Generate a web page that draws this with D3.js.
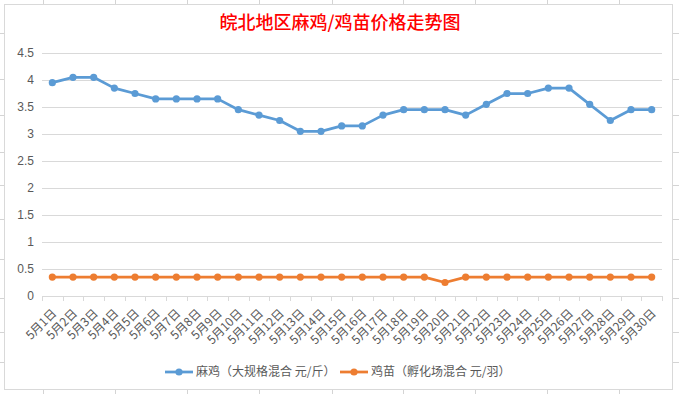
<!DOCTYPE html>
<html>
<head>
<meta charset="utf-8">
<script src="https://cdn.jsdelivr.net/npm/d3@7/dist/d3.min.js"></script>
<style>
html,body{margin:0;padding:0;background:#fff;}
svg{display:block;font-family:"Noto Sans CJK SC","Noto Sans",sans-serif;}
</style>
</head>
<body>
<svg id="chart" width="679" height="394"></svg>
<script>
const categories = ["5月1日","5月2日","5月3日","5月4日","5月5日","5月6日","5月7日","5月8日","5月9日","5月10日",
  "5月11日","5月12日","5月13日","5月14日","5月15日","5月16日","5月17日","5月18日","5月19日","5月20日",
  "5月21日","5月22日","5月23日","5月24日","5月25日","5月26日","5月27日","5月28日","5月29日","5月30日"];
const majiValues = [3.95,4.05,4.05,3.85,3.75,3.65,3.65,3.65,3.65,3.45,
  3.35,3.25,3.05,3.05,3.15,3.15,3.35,3.45,3.45,3.45,
  3.35,3.55,3.75,3.75,3.85,3.85,3.55,3.25,3.45,3.45];
const jimiaoValues = [0.35,0.35,0.35,0.35,0.35,0.35,0.35,0.35,0.35,0.35,
  0.35,0.35,0.35,0.35,0.35,0.35,0.35,0.35,0.35,0.25,
  0.35,0.35,0.35,0.35,0.35,0.35,0.35,0.35,0.35,0.35];
const yTicks = [0,0.5,1,1.5,2,2.5,3,3.5,4,4.5];
const seriesNames = ["麻鸡（大规格混合 元/斤）","鸡苗（孵化场混合 元/羽）"];
const title = "皖北地区麻鸡/鸡苗价格走势图";

(function(){
const svg = d3.select("#chart");
const pL = 42, pR = 662, pT = 53, pB = 296;

// spreadsheet gridline stubs outside chart
const sheet = svg.append("g").attr("stroke","#d4d4d4").attr("stroke-width",1);
[43,115,187,259,332,403,475,547,619].forEach(v=>{
  sheet.append("line").attr("x1",v+0.5).attr("x2",v+0.5).attr("y1",0).attr("y2",4);
  sheet.append("line").attr("x1",v+0.5).attr("x2",v+0.5).attr("y1",390).attr("y2",394);
});
[33,79,115,152,185,219,259,298,332,362].forEach(v=>{
  sheet.append("line").attr("x1",0).attr("x2",4).attr("y1",v+0.5).attr("y2",v+0.5);
  sheet.append("line").attr("x1",673).attr("x2",679).attr("y1",v+0.5).attr("y2",v+0.5);
});

// chart frame
svg.append("rect").attr("x",4.5).attr("y",4.5).attr("width",668).attr("height",385)
  .attr("fill","#fff").attr("stroke","#d9d9d9");

// title
svg.append("text").attr("x",340).attr("y",29).attr("text-anchor","middle")
  .attr("fill","#ff0000").attr("font-size",18).attr("font-weight",500).text(title);

const x = d3.scaleBand().domain(categories).range([pL,pR]);
const y = d3.scaleLinear().domain([0,4.5]).range([pB,pT]);

// gridlines
const yAxis = d3.axisLeft(y).tickValues(yTicks).tickSize(-(pR-pL)).tickFormat(d=>d3.format("")(d)).tickPadding(8);
const gy = svg.append("g").attr("transform",`translate(${pL},0)`).call(yAxis);
gy.select(".domain").remove();
gy.selectAll(".tick line").attr("stroke","#d9d9d9").attr("shape-rendering","crispEdges");
gy.selectAll(".tick text").attr("fill","#595959").attr("font-size",12)
  .attr("font-family","'Liberation Sans','DejaVu Sans',sans-serif");
gy.selectAll(".tick").filter(d=>d===0).select("line").remove();

// x axis
const gx = svg.append("g").attr("transform",`translate(0,${pB})`);
gx.append("line").attr("x1",pL).attr("x2",pR).attr("y1",0.5).attr("y2",0.5).attr("stroke","#d9d9d9");
const bounds = categories.map(c=>x(c)).concat([pR]);
gx.selectAll("line.tk").data(bounds).join("line").attr("class","tk")
  .attr("x1",d=>Math.round(d)+0.5).attr("x2",d=>Math.round(d)+0.5).attr("y1",0).attr("y2",5).attr("stroke","#d9d9d9");
gx.selectAll("text").data(categories).join("text")
  .attr("transform",d=>`translate(${x(d)+x.bandwidth()/2+2},${15}) rotate(-45)`)
  .attr("text-anchor","end").attr("dy","0.35em")
  .attr("fill","#595959").attr("font-size",12).text(d=>d);

// series
const colors = ["#5b9bd5","#ed7d31"];
const data = [majiValues, jimiaoValues];
const cx = (d,i)=>x(categories[i])+x.bandwidth()/2;
const line = d3.line().x(cx).y(d=>y(d));
data.forEach((vals,k)=>{
  const g = svg.append("g");
  g.append("path").datum(vals).attr("d",line).attr("fill","none")
    .attr("stroke",colors[k]).attr("stroke-width",2.75).attr("stroke-linejoin","round");
  g.selectAll("circle").data(vals).join("circle")
    .attr("cx",cx).attr("cy",d=>y(d)).attr("r",3.6).attr("fill",colors[k]);
});

// legend
const legendX = [165, 340];
seriesNames.forEach((n,k)=>{
  const g = svg.append("g").attr("transform",`translate(${legendX[k]},372)`);
  g.append("line").attr("x1",0).attr("x2",28).attr("y1",0).attr("y2",0).attr("stroke",colors[k]).attr("stroke-width",2.75);
  g.append("circle").attr("cx",14).attr("cy",0).attr("r",3.6).attr("fill",colors[k]);
  g.append("text").attr("x",31).attr("y",0).attr("dy","0.35em").attr("fill","#595959").attr("font-size",12).text(n);
});
})();
</script>
</body>
</html>
